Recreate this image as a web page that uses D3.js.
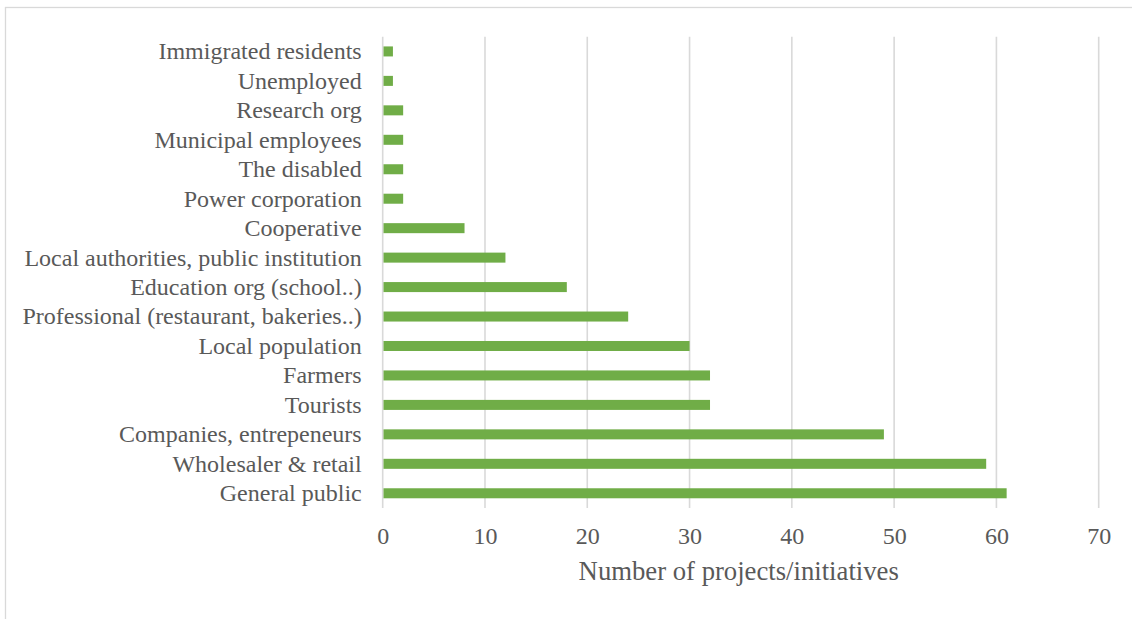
<!DOCTYPE html>
<html>
<head>
<meta charset="utf-8">
<script src="https://cdn.jsdelivr.net/npm/d3@7"></script>
<style>
  html, body { margin: 0; padding: 0; background: #fff; }
  svg { display: block; }
</style>
</head>
<body>
<svg id="chart" width="1132" height="619"></svg>
<script>
// Target groups, listed top to bottom
const categories = [
  "Immigrated residents",
  "Unemployed",
  "Research org",
  "Municipal employees",
  "The disabled",
  "Power corporation",
  "Cooperative",
  "Local authorities, public institution",
  "Education org (school..)",
  "Professional (restaurant, bakeries..)",
  "Local population",
  "Farmers",
  "Tourists",
  "Companies, entrepeneurs",
  "Wholesaler & retail",
  "General public"
];
const projectCounts = [1, 1, 2, 2, 2, 2, 8, 12, 18, 24, 30, 32, 32, 49, 59, 61];
const xTicks = [0, 10, 20, 30, 40, 50, 60, 70];
const xTitle = "Number of projects/initiatives";

const svg = d3.select("#chart");
const font = "'Liberation Serif', 'Times New Roman', serif";
const textColor = "#595959";
const gridColor = "#d9d9d9";

// Outer frame (only the top and left edges fall inside the view)
svg.append("rect")
  .attr("x", 5.5).attr("y", 7.5)
  .attr("width", 1200).attr("height", 700)
  .attr("fill", "none")
  .attr("stroke", gridColor)
  .attr("stroke-width", 1.3);

const plot = { left: 382.7, right: 1098.7, top: 36.7, bottom: 508 };

const x = d3.scaleLinear().domain([0, 70]).range([plot.left, plot.right]);
const y = d3.scaleBand().domain(categories).range([plot.top, plot.bottom]).paddingInner(0.66).paddingOuter(0.33);

// Vertical gridlines
svg.append("g")
  .selectAll("line")
  .data(xTicks)
  .join("line")
  .attr("x1", d => x(d)).attr("x2", d => x(d))
  .attr("y1", plot.top).attr("y2", plot.bottom)
  .attr("stroke", gridColor)
  .attr("stroke-width", 1.6);

// Bars
svg.append("g")
  .selectAll("rect")
  .data(categories.map((c, i) => ({ c, v: projectCounts[i] })))
  .join("rect")
  .attr("x", x(0) + 0.8)
  .attr("y", d => y(d.c))
  .attr("width", d => x(d.v) - x(0) - 0.8)
  .attr("height", y.bandwidth())
  .attr("fill", "#70ad47");

// Category labels
const yAxis = svg.append("g")
  .attr("transform", `translate(${plot.left},0)`)
  .call(d3.axisLeft(y).tickSize(0).tickPadding(21));
yAxis.select(".domain").remove();
yAxis.selectAll("text")
  .attr("font-family", font)
  .attr("font-size", 24)
  .attr("fill", textColor)
  .attr("dy", "0.33em");

// Value axis labels
const xAxis = svg.append("g")
  .attr("transform", `translate(0,${plot.bottom})`)
  .call(d3.axisBottom(x).tickValues(xTicks).tickSize(0).tickPadding(0));
xAxis.select(".domain").remove();
xAxis.selectAll("text")
  .attr("font-family", font)
  .attr("font-size", 24)
  .attr("fill", textColor)
  .attr("y", 36)
  .attr("dy", 0);

// Axis title
svg.append("text")
  .attr("x", (plot.left + plot.right) / 2 - 2)
  .attr("y", 580)
  .attr("text-anchor", "middle")
  .attr("font-family", font)
  .attr("font-size", 26.7)
  .attr("fill", textColor)
  .text(xTitle);
</script>
</body>
</html>
